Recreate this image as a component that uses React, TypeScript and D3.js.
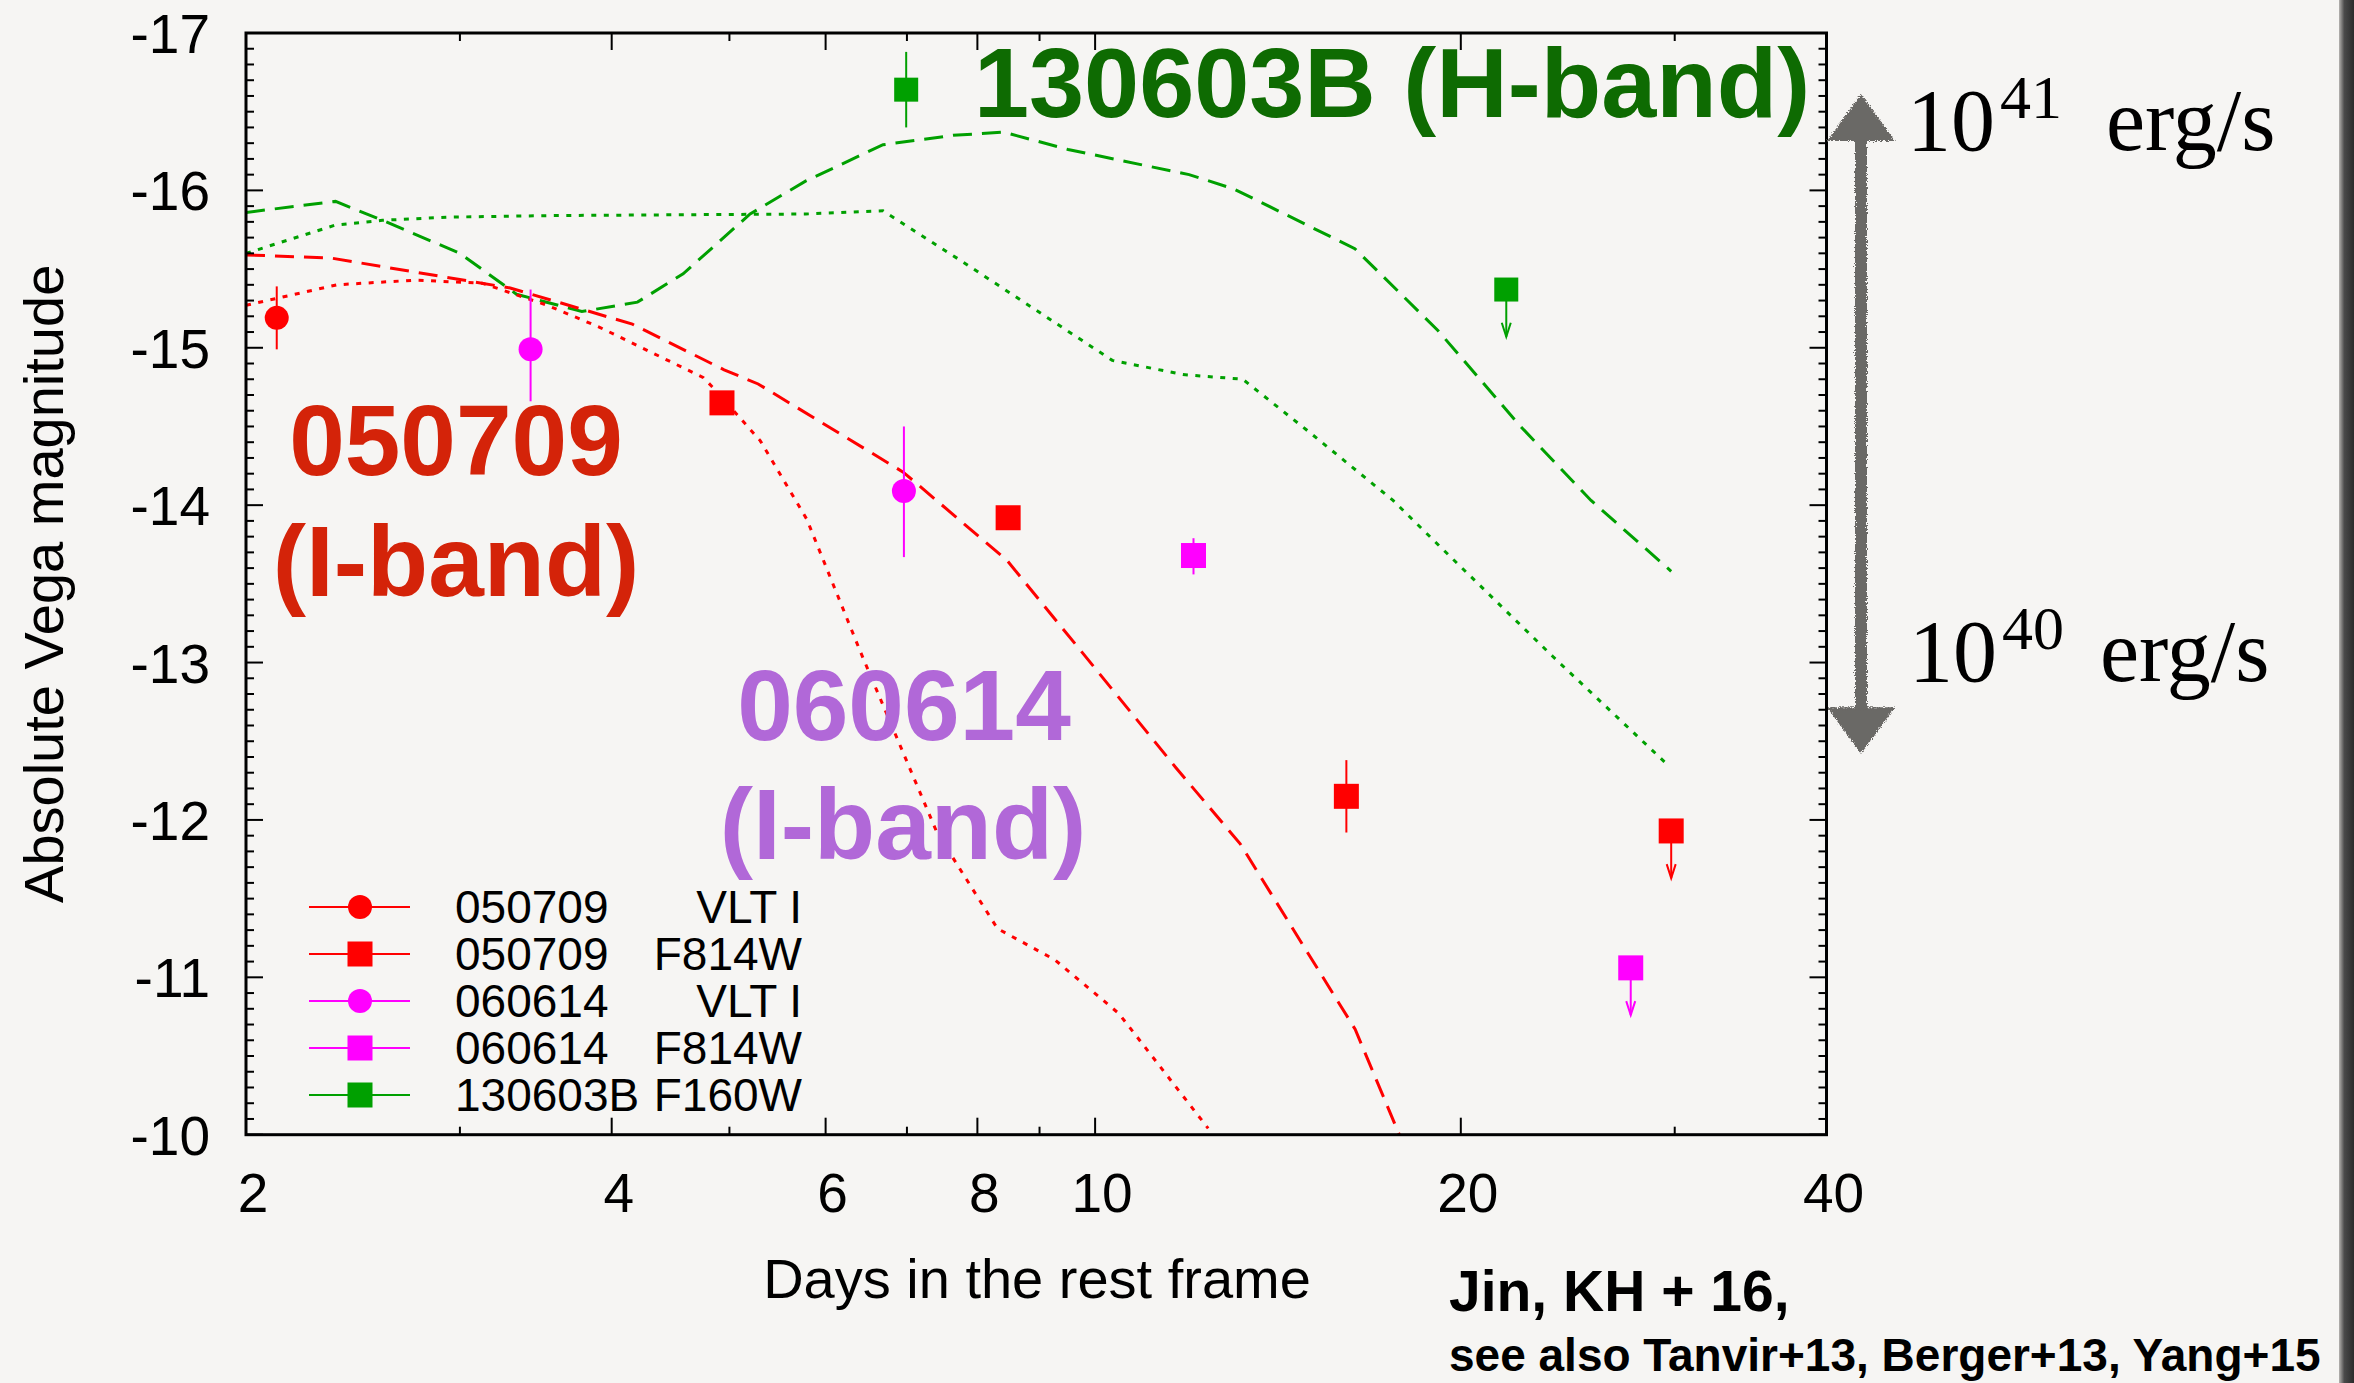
import React from "react";
import * as d3 from "d3";

const WIDTH = 2354;
const HEIGHT = 1383;

// Plot frame (pixels)
const FRAME = { left: 246, right: 1826.5, top: 33, bottom: 1134.7 };

// Axes
const xDomain: [number, number] = [2, 40];
const yDomain: [number, number] = [-17, -10];
const xMajorTicks = [2, 4, 6, 8, 10, 20, 40];
const xMinorTicks = [3, 5, 7, 9, 30];
const yMajorTicks = [-17, -16, -15, -14, -13, -12, -11, -10];

// Photometry: t = rest-frame days, m = absolute Vega magnitude, lo/hi = error bar ends
const vlt050709 = [{ t: 2.12, m: -15.19, lo: -15.39, hi: -14.99 }];
const hst050709 = [
  { t: 4.93, m: -14.65 },
  { t: 8.48, m: -13.92 },
  { t: 16.1, m: -12.15, lo: -12.38, hi: -11.92 },
];
const hst050709Limits = [{ t: 29.8, m: -11.93 }];
const vlt060614 = [
  { t: 3.43, m: -14.99, lo: -15.37, hi: -14.66 },
  { t: 6.96, m: -14.09, lo: -14.5, hi: -13.67 },
];
const hst060614 = [{ t: 12.05, m: -13.68, lo: -13.79, hi: -13.56 }];
const hst060614Limits = [{ t: 27.6, m: -11.06 }];
const wfc3130603B = [{ t: 6.99, m: -16.64, lo: -16.88, hi: -16.4 }];
const wfc3130603BLimits = [{ t: 21.8, m: -15.37 }];

// Model light curves [t, m]
const modelRedDashed: [number, number][] = [
  [2.0, -15.59], [2.35, -15.57], [3.3, -15.38], [4.16, -15.15], [4.95, -14.86],
  [5.28, -14.77], [6.95, -14.21], [8.46, -13.65], [9.72, -13.08], [11.66, -12.33],
  [13.16, -11.85], [16.37, -10.67], [17.8, -10.0],
];
const modelRedDotted: [number, number][] = [
  [2.0, -15.27], [2.375, -15.4], [2.76, -15.43], [3.13, -15.41], [3.54, -15.27],
  [3.91, -15.13], [4.76, -14.81], [4.87, -14.73], [5.3, -14.41], [5.79, -13.91],
  [6.4, -13.08], [7.41, -11.92], [8.31, -11.31], [9.27, -11.11], [10.46, -10.77],
  [12.39, -10.04],
];
const modelGreenDashed: [number, number][] = [
  [2.0, -15.86], [2.37, -15.93], [2.59, -15.81], [3.0, -15.6], [3.34, -15.34],
  [3.78, -15.23], [4.2, -15.29], [4.58, -15.47], [5.2, -15.85], [5.78, -16.06],
  [6.69, -16.29], [7.64, -16.35], [8.41, -16.37], [9.5, -16.26], [11.95, -16.1],
  [13.0, -16.01], [16.36, -15.63], [19.15, -15.11], [22.4, -14.5], [25.6, -14.03],
  [29.8, -13.58],
];
const modelGreenDotted: [number, number][] = [
  [2.0, -15.6], [2.37, -15.78], [2.59, -15.81], [2.94, -15.83], [3.56, -15.84],
  [5.78, -15.85], [6.69, -15.87], [7.73, -15.56], [10.33, -14.92], [11.81, -14.83],
  [13.23, -14.8], [15.03, -14.46], [17.59, -14.03], [19.15, -13.75], [23.8, -13.04],
  [29.6, -12.35],
];

// Luminosity scale bar ends (in magnitudes)
const lumBar = { top: -16.6, bottom: -12.43 };

// Legend entries
const legendRows = [
  { grb: "050709", inst: "VLT I", color: "#ff0000", shape: "circle" },
  { grb: "050709", inst: "F814W", color: "#ff0000", shape: "square" },
  { grb: "060614", inst: "VLT I", color: "#ff00ff", shape: "circle" },
  { grb: "060614", inst: "F814W", color: "#ff00ff", shape: "square" },
  { grb: "130603B", inst: "F160W", color: "#00a000", shape: "square" },
];

const SANS = "'Liberation Sans', Arial, Helvetica, sans-serif";
const SERIF = "'Liberation Serif', 'DejaVu Serif', serif";
const RED = "#ff0000";
const MAGENTA = "#ff00ff";
const GREEN = "#00a000";

type Pt = { t: number; m: number; lo?: number; hi?: number };

export default function App() {
  const x = d3.scaleLog().domain(xDomain).range([FRAME.left, FRAME.right]);
  const y = d3.scaleLinear().domain(yDomain).range([FRAME.top, FRAME.bottom]);
  const line = d3
    .line<[number, number]>()
    .x((d) => x(d[0]))
    .y((d) => y(d[1]));

  const yMinorTicks = d3
    .range(-170, -99, 1)
    .filter((v) => v % 10 !== 0)
    .map((v) => v / 10);

  const errBars = (pts: Pt[], color: string) =>
    pts
      .filter((p) => p.lo !== undefined && p.hi !== undefined)
      .map((p, i) => (
        <line
          key={`e${i}`}
          x1={x(p.t)}
          x2={x(p.t)}
          y1={y(p.lo as number)}
          y2={y(p.hi as number)}
          stroke={color}
          strokeWidth={2}
        />
      ));

  const circles = (pts: Pt[], color: string) => (
    <g>
      {errBars(pts, color)}
      {pts.map((p, i) => (
        <circle key={i} cx={x(p.t)} cy={y(p.m)} r={12} fill={color} />
      ))}
    </g>
  );

  const squares = (pts: Pt[], color: string, size = 25) => (
    <g>
      {errBars(pts, color)}
      {pts.map((p, i) => (
        <rect
          key={i}
          x={x(p.t) - size / 2}
          y={y(p.m) - size / 2}
          width={size}
          height={size}
          fill={color}
        />
      ))}
    </g>
  );

  const limits = (pts: Pt[], color: string, size = 25) => (
    <g>
      {pts.map((p, i) => {
        const cx = x(p.t);
        const y0 = y(p.m);
        const y1 = y(p.m + 0.3);
        return (
          <g key={i}>
            <line x1={cx} x2={cx} y1={y0} y2={y1} stroke={color} strokeWidth={2} />
            <path
              d={`M${cx - 4.5},${y1 - 14} L${cx},${y1} L${cx + 4.5},${y1 - 14}`}
              fill="none"
              stroke={color}
              strokeWidth={2}
            />
            <rect x={cx - size / 2} y={y0 - size / 2} width={size} height={size} fill={color} />
          </g>
        );
      })}
    </g>
  );

  const barX = 1861;
  const barTop = y(lumBar.top);
  const barBot = y(lumBar.bottom);
  const headLen = 44;
  const headHalf = 32;

  return (
    <svg
      width={WIDTH}
      height={HEIGHT}
      viewBox={`0 0 ${WIDTH} ${HEIGHT}`}
      style={{ position: "absolute", left: 0, top: 0, display: "block" }}
    >
      <defs>
        <clipPath id="plotClip">
          <rect
            x={FRAME.left}
            y={FRAME.top}
            width={FRAME.right - FRAME.left}
            height={FRAME.bottom - FRAME.top}
          />
        </clipPath>
        <filter id="rough" x="-20%" y="-5%" width="140%" height="110%">
          <feTurbulence type="fractalNoise" baseFrequency="0.8" numOctaves="2" seed="3" result="noise" />
          <feDisplacementMap in="SourceGraphic" in2="noise" scale="5" xChannelSelector="R" yChannelSelector="G" />
        </filter>
        <linearGradient id="edge" x1="0" x2="1" y1="0" y2="0">
          <stop offset="0" stopColor="#b5b3b0" />
          <stop offset="0.35" stopColor="#4a4a4a" />
          <stop offset="1" stopColor="#2b2b2b" />
        </linearGradient>
      </defs>

      <rect x={0} y={0} width={WIDTH} height={HEIGHT} fill="#f6f5f3" />
      <rect x={2339} y={0} width={WIDTH - 2339} height={HEIGHT} fill="url(#edge)" />

      {/* model curves */}
      <g clipPath="url(#plotClip)" fill="none" strokeWidth={3}>
        <path d={line(modelGreenDotted) ?? ""} stroke={GREEN} strokeDasharray="5 7.5" />
        <path d={line(modelGreenDashed) ?? ""} stroke={GREEN} strokeDasharray="19 10" />
        <path d={line(modelRedDotted) ?? ""} stroke={RED} strokeDasharray="5 7.5" />
        <path d={line(modelRedDashed) ?? ""} stroke={RED} strokeDasharray="19 10" />
      </g>

      {/* data */}
      {circles(vlt050709, RED)}
      {squares(hst050709, RED)}
      {limits(hst050709Limits, RED)}
      {circles(vlt060614, MAGENTA)}
      {squares(hst060614, MAGENTA)}
      {limits(hst060614Limits, MAGENTA)}
      {squares(wfc3130603B, GREEN, 24)}
      {limits(wfc3130603BLimits, GREEN, 24)}

      {/* ticks */}
      <g stroke="#000" strokeWidth={2}>
        {xMajorTicks.map((t) => (
          <g key={`xM${t}`}>
            <line x1={x(t)} x2={x(t)} y1={FRAME.bottom} y2={FRAME.bottom - 17} />
            <line x1={x(t)} x2={x(t)} y1={FRAME.top} y2={FRAME.top + 17} />
          </g>
        ))}
        {xMinorTicks.map((t) => (
          <g key={`xm${t}`}>
            <line x1={x(t)} x2={x(t)} y1={FRAME.bottom} y2={FRAME.bottom - 8} />
            <line x1={x(t)} x2={x(t)} y1={FRAME.top} y2={FRAME.top + 8} />
          </g>
        ))}
        {yMajorTicks.map((v) => (
          <g key={`yM${v}`}>
            <line x1={FRAME.left} x2={FRAME.left + 17} y1={y(v)} y2={y(v)} />
            <line x1={FRAME.right} x2={FRAME.right - 17} y1={y(v)} y2={y(v)} />
          </g>
        ))}
        {yMinorTicks.map((v) => (
          <g key={`ym${v}`}>
            <line x1={FRAME.left} x2={FRAME.left + 8} y1={y(v)} y2={y(v)} />
            <line x1={FRAME.right} x2={FRAME.right - 8} y1={y(v)} y2={y(v)} />
          </g>
        ))}
      </g>

      {/* frame */}
      <rect
        x={FRAME.left}
        y={FRAME.top}
        width={FRAME.right - FRAME.left}
        height={FRAME.bottom - FRAME.top}
        fill="none"
        stroke="#000"
        strokeWidth={3}
      />

      {/* tick labels */}
      <g fontFamily={SANS} fontSize={55} fill="#000">
        {xMajorTicks.map((t) => (
          <text key={`xl${t}`} x={x(t) + 7} y={1212} textAnchor="middle">
            {t}
          </text>
        ))}
        {yMajorTicks.map((v) => (
          <text key={`yl${v}`} x={210} y={y(v) + 20} textAnchor="end">
            {`-${Math.abs(v)}`}
          </text>
        ))}
      </g>

      {/* axis titles */}
      <text x={1037} y={1298} fontFamily={SANS} fontSize={56} textAnchor="middle" fill="#000">
        Days in the rest frame
      </text>
      <text
        transform={`translate(63, ${(FRAME.top + FRAME.bottom) / 2}) rotate(-90)`}
        fontFamily={SANS}
        fontSize={56}
        textAnchor="middle"
        fill="#000"
      >
        Absolute Vega magnitude
      </text>

      {/* legend */}
      <g fontFamily={SANS} fontSize={46} fill="#000">
        {legendRows.map((r, i) => {
          const cy = 907 + i * 47;
          return (
            <g key={i}>
              <line x1={309} x2={410} y1={cy} y2={cy} stroke={r.color} strokeWidth={2} />
              {r.shape === "circle" ? (
                <circle cx={360} cy={cy} r={12} fill={r.color} />
              ) : (
                <rect x={347.5} y={cy - 12.5} width={25} height={25} fill={r.color} />
              )}
              <text x={455} y={cy + 16}>{r.grb}</text>
              <text x={802} y={cy + 16} textAnchor="end">{r.inst}</text>
            </g>
          );
        })}
      </g>

      {/* event labels */}
      <g fontFamily={SANS} fontWeight="bold" fontSize={100}>
        <text x={456} y={475} textAnchor="middle" fill="#d42309">050709</text>
        <text x={456} y={596} textAnchor="middle" fill="#d42309">(I-band)</text>
        <text x={904} y={740} textAnchor="middle" fill="#b168d8">060614</text>
        <text x={903} y={859} textAnchor="middle" fill="#b168d8">(I-band)</text>
        <text x={974} y={117} fontSize={99} fill="#0e6b02">130603B (H-band)</text>
      </g>

      {/* luminosity scale bar */}
      <g filter="url(#rough)" fill="#6b6966" stroke="#6b6966">
        <line x1={barX} x2={barX} y1={barTop + headLen - 4} y2={barBot - headLen + 4} strokeWidth={12} />
        <path
          d={`M${barX},${barTop} L${barX + headHalf},${barTop + headLen} L${barX - headHalf},${barTop + headLen} Z`}
          strokeWidth={2}
        />
        <path
          d={`M${barX},${barBot} L${barX + headHalf},${barBot - headLen} L${barX - headHalf},${barBot - headLen} Z`}
          strokeWidth={2}
        />
      </g>
      <g fontFamily={SERIF} fill="#000">
        <text x={1907} y={150} fontSize={88}>10</text>
        <text x={2000} y={118} fontSize={62}>41</text>
        <text x={2106} y={150} fontSize={88}>erg/s</text>
        <text x={1909} y={681} fontSize={88}>10</text>
        <text x={2002} y={649} fontSize={62}>40</text>
        <text x={2100} y={681} fontSize={88}>erg/s</text>
      </g>

      {/* reference note */}
      <g fontFamily={SANS} fontWeight="bold" fill="#000">
        <text x={1449} y={1311} fontSize={57}>Jin, KH + 16,</text>
        <text x={1449} y={1371} fontSize={46}>see also Tanvir+13, Berger+13, Yang+15</text>
      </g>
    </svg>
  );
}
